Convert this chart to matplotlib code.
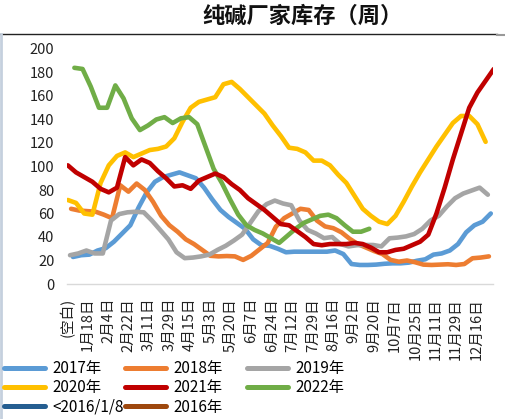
import matplotlib
matplotlib.use("Agg")
import matplotlib.pyplot as plt
from matplotlib.lines import Line2D
import numpy as np

plt.rcParams['font.family'] = ['Noto Sans CJK SC', 'DejaVu Sans']

title = "纯碱厂家库存（周）"
x_labels = ["(空白)", "1月18日", "2月4日", "2月22日", "3月11日", "3月29日", "4月15日",
            "5月3日", "5月20日", "6月7日", "6月24日", "7月12日", "7月29日", "8月16日",
            "9月2日", "9月20日", "10月7日", "10月25日", "11月11日", "11月29日", "12月16日"]
y_ticks = [0, 20, 40, 60, 80, 100, 120, 140, 160, 180, 200]

# weekly inventory values (10k tonnes), week offset of first observation
s2017 = [23, 24.5, 25, 28.5, 30.5, 36, 43, 50, 65, 78, 87, 91, 93, 95, 92.5, 90, 82, 72,
         63, 57, 52, 47, 38, 33, 32.5, 30, 27, 27.5, 27.5, 27.5, 27.5, 27.5, 28.5, 25.5,
         17, 16.2, 16.2, 16.5, 17.2, 17.6, 17.6, 18.2, 19.8, 21, 25, 26, 28.5, 34, 44,
         50, 53, 60]
s2018 = [64, 62.5, 62, 61.5, 59, 56, 84, 78.6, 85.5, 80, 70, 58, 50, 44.5, 38, 34, 29,
         24, 23.5, 23.8, 23.5, 20.5, 24, 29.5, 35, 48.8, 56, 60, 64, 63, 54, 49, 47.5,
         44, 38.5, 34, 31, 28, 25.5, 20.5, 19, 20, 18.5, 16.5, 16.2, 16.5, 16.8, 16.2,
         17, 21.9, 22.5, 23.5]
s2019 = [24.5, 26, 28.5, 26, 26, 54, 59.5, 61, 61.5, 61, 54, 46, 38, 27, 22, 22.5, 23.5,
         25, 29, 32.5, 37, 42, 52, 62, 68, 71, 68.5, 67, 54, 46, 43, 39, 40, 34, 32, 33,
         33.2, 33.2, 32, 38.9, 39.5, 40.5, 42.5, 47, 54, 58, 66, 73, 77, 79.5, 82, 76]
s2020 = [71.5, 69, 60, 59, 86, 101, 109, 112, 108, 111, 114, 115, 117, 124, 138, 150,
         155, 157, 159, 170, 172, 166, 159, 152, 145, 135, 126, 116, 115, 112, 105, 105,
         101, 93, 86, 75, 64, 58, 53, 51, 58, 70, 83, 95, 106, 117, 127, 137, 143, 143,
         136, 121]
s2021 = [101, 95, 91, 87, 81, 78, 82, 108, 101, 106, 103, 96, 90, 83, 84, 81, 88, 91, 94,
         91, 85, 80, 73, 68, 63, 57, 51, 50, 45, 40, 34, 33, 34, 34, 34, 35, 34, 31, 27,
         27, 29, 30, 33, 36, 42, 60, 82, 106, 128, 150, 163, 173, 183]
s2022 = [184, 183, 168, 150, 150, 169, 158, 141, 131, 135, 140, 142, 137, 141, 142, 136,
         117, 98, 86, 72, 59, 50, 46, 43, 39, 35, 41, 47, 52, 55, 58, 59, 56, 50, 44.5,
         44.5, 47]
s_old = []
s2016 = []

series_names = ["2017年", "2018年", "2019年", "2020年", "2021年", "2022年", "<2016/1/8", "2016年"]
series_data = [s2017, s2018, s2019, s2020, s2021, s2022, s_old, s2016]
start_week = [0.73, 0.5, 0.37, 0.1, 0.1, 0.9, 0, 0]
colors = ["#5B9BD5", "#ED7D31", "#A5A5A5", "#FFC000", "#C00000", "#70AD47", "#255E91", "#9E480E"]

W, H = 506, 419
fig = plt.figure(figsize=(W / 100, H / 100), dpi=100)
ax = fig.add_axes([67 / W, 1 - 284 / H, 426 / W, 235 / H])

draw_order = [0, 1, 2, 3, 5, 4]
for i in draw_order:
    d = series_data[i]
    xs = start_week[i] + np.arange(len(d))
    ax.plot(xs, d, color=colors[i], lw=3.3, solid_joinstyle='round', solid_capstyle='round',
            zorder=3)

ax.set_xlim(0, 52)
ax.set_ylim(0, 200)
ax.set_yticks(y_ticks)
ax.set_yticklabels([str(v) for v in y_ticks], fontsize=10.5, color='#222222')
ax.set_xticks(np.arange(len(x_labels)) * 2.5)
ax.set_xticklabels(x_labels, rotation=90, fontsize=10.5, color='#222222', va='top', ha='center')
ax.tick_params(axis='y', length=0, pad=9)
ax.tick_params(axis='x', length=0, pad=10)
for sp in ['top', 'right', 'left']:
    ax.spines[sp].set_visible(False)
ax.spines['bottom'].set_color('#D9D9D9')
ax.spines['bottom'].set_linewidth(1.0)
ax.spines['bottom'].set_zorder(1)

fig.text(303 / W, 1 - 16 / H, title, ha='center', va='center', fontsize=16,
         fontweight='bold', color='#111111')
fig.add_artist(Line2D([0, 497 / W], [1 - 34.5 / H, 1 - 34.5 / H], color='#222222', lw=1.0))
fig.add_artist(Line2D([497 / W, 1], [1 - 35 / H, 1 - 35 / H], color='#999999', lw=1.5))
fig.add_artist(Line2D([1.5 / W, 1.5 / W], [0, 1 - 34 / H], color='#C5D0DE', lw=2))

# legend: three fixed-width columns, filled row by row
col_x = [4, 125, 247]
ncols = 3
for c in range(ncols):
    idx = list(range(c, len(series_names), ncols))
    handles = [Line2D([0], [0], color=colors[i], lw=3.6, solid_capstyle='round') for i in idx]
    labels = [series_names[i] for i in idx]
    leg = fig.legend(handles, labels, loc='upper left',
                     bbox_to_anchor=(col_x[c] / W, 1 - 360 / H),
                     ncol=1, frameon=False, fontsize=11, handlelength=2.7,
                     handletextpad=0.45, labelspacing=0.15, borderpad=0, borderaxespad=0)
    leg.set_zorder(5 - c)

fig.savefig("out.png", dpi=100)
